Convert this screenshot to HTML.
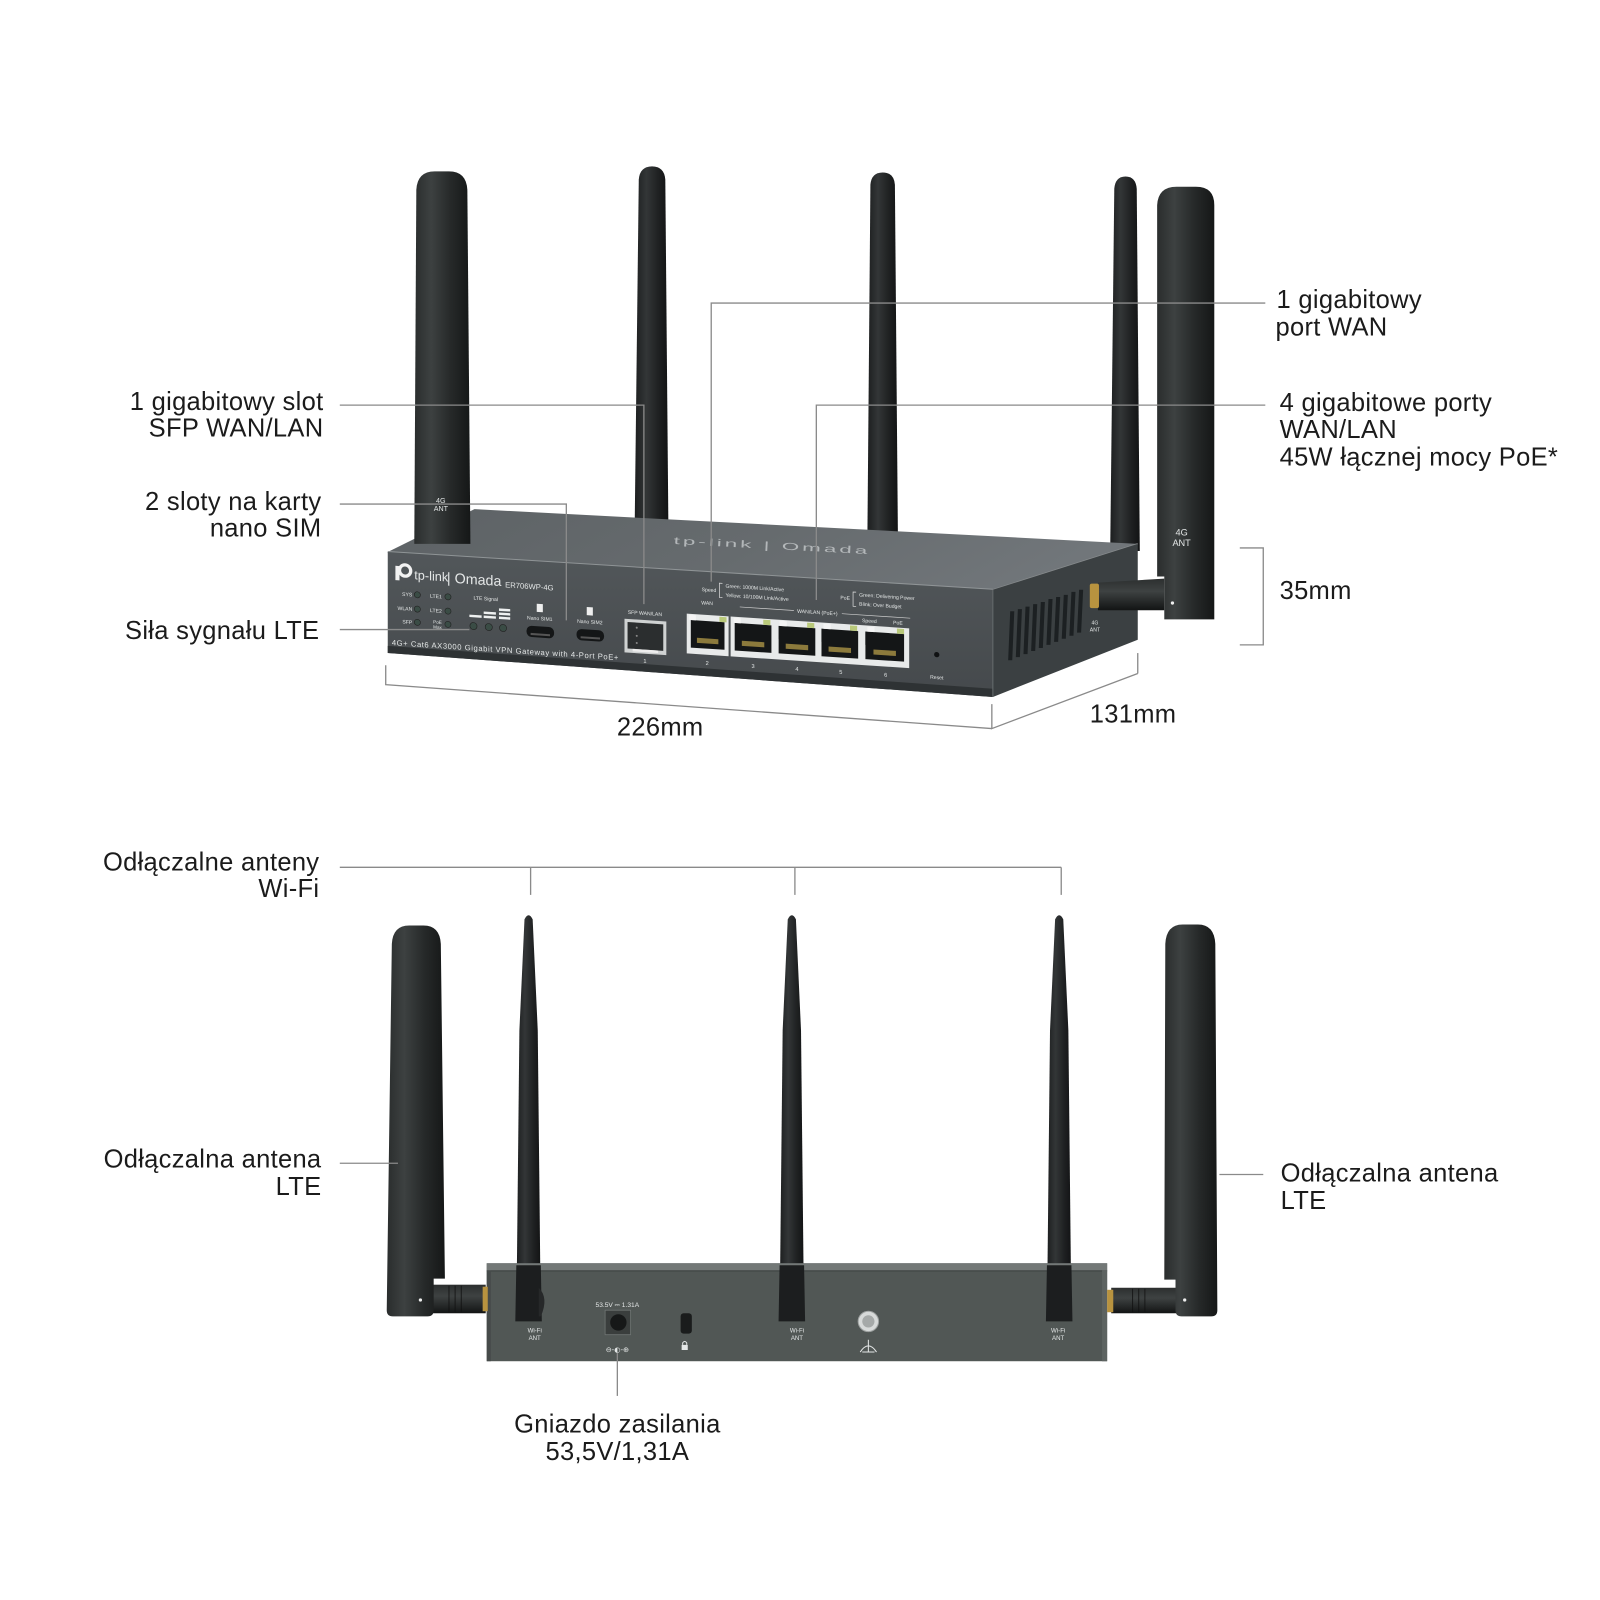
<!DOCTYPE html>
<html><head><meta charset="utf-8"><style>
html,body{margin:0;padding:0;background:#fff;}
svg{display:block;}
.t{font-family:"Liberation Sans",Arial,sans-serif;font-size:25px;fill:#1b1b1b;letter-spacing:0.3px;}
.s{font-family:"Liberation Sans",Arial,sans-serif;fill:#e4e7e7;}
.ln{stroke:#8a8a8a;stroke-width:1.3;fill:none;}
</style></head><body>
<svg width="1600" height="1600" viewBox="0 0 1568 1568" xmlns="http://www.w3.org/2000/svg">
<defs>
<linearGradient id="ant" x1="0" x2="1" y1="0" y2="0">
 <stop offset="0" stop-color="#2a2d2d"/><stop offset="0.3" stop-color="#3d4141"/><stop offset="0.65" stop-color="#262929"/><stop offset="1" stop-color="#151717"/>
</linearGradient>
<linearGradient id="ant2" x1="0" x2="1" y1="0" y2="0">
 <stop offset="0" stop-color="#1c1e1f"/><stop offset="0.35" stop-color="#333637"/><stop offset="0.7" stop-color="#1f2122"/><stop offset="1" stop-color="#121314"/>
</linearGradient>
<linearGradient id="topg" x1="0" y1="0" x2="1" y2="0.2">
 <stop offset="0" stop-color="#5d6265"/><stop offset="0.55" stop-color="#666b6e"/><stop offset="1" stop-color="#71767a"/>
</linearGradient>
<linearGradient id="frontg" x1="0" y1="0" x2="0" y2="1">
 <stop offset="0" stop-color="#52575a"/><stop offset="1" stop-color="#45494c"/>
</linearGradient>
<linearGradient id="cyl" x1="0" y1="0" x2="0" y2="1">
 <stop offset="0" stop-color="#2c2f2f"/><stop offset="0.4" stop-color="#3e4242"/><stop offset="1" stop-color="#121414"/>
</linearGradient>
</defs>

<!-- ===== TOP SECTION: back antennas ===== -->
<path d="M626,176 Q627,163 639,163 Q651,163 652,176 L655,515 L622,515 Z" fill="url(#ant2)"/>
<path d="M853,181 Q854,169 865,169 Q876,169 877,181 L880,532 L850,532 Z" fill="url(#ant2)"/>
<path d="M1092,185 Q1093,173 1103,173 Q1113,173 1114,185 L1117,540 L1088,540 Z" fill="url(#ant2)"/>

<!-- router top face -->
<polygon points="380,541 465,499 1115,533 973,578" fill="url(#topg)"/>
<line x1="380" y1="541" x2="973" y2="578" stroke="#8f9496" stroke-width="2"/>
<line x1="973" y1="578" x2="1115" y2="533" stroke="#85898b" stroke-width="1.5"/>
<text x="0" y="0" transform="translate(660,533) rotate(3) scale(1,0.45)" font-family="Liberation Sans, sans-serif" font-size="22" fill="#b3b7b9" textLength="190">tp-link | Omada</text>

<!-- side face -->
<polygon points="973,578 1115,533 1115,627 973,683" fill="#3b4042"/>
<g fill="#1c2022">
<polygon points="990,599 994,599 992,647 988,647"/>
<polygon points="997.5,597 1001.5,597 999.5,644 995.5,644"/>
<polygon points="1005,594.5 1009,594.5 1007,641 1003,641"/>
<polygon points="1012.5,592 1016.5,592 1014.5,638 1010.5,638"/>
<polygon points="1020,590 1024,590 1022,635 1018,635"/>
<polygon points="1027.5,587 1031.5,587 1029.5,632 1025.5,632"/>
<polygon points="1035,585 1039,585 1037,629 1033,629"/>
<polygon points="1042.5,583 1046.5,583 1044.5,626 1040.5,626"/>
<polygon points="1050,580 1054,580 1052,623 1048,623"/>
<polygon points="1057.5,578 1061.5,578 1059.5,620 1055.5,620"/>
</g>
<text x="1073" y="612" class="s" font-size="5" text-anchor="middle">4G</text>
<text x="1073" y="619" class="s" font-size="5" text-anchor="middle">ANT</text>

<!-- front face -->
<polygon points="380,541 973,578 973,683 380,640" fill="url(#frontg)"/>
<polygon points="380,633 973,675 973,683 380,640" fill="#2e3234"/>
<line x1="973" y1="578" x2="973" y2="683" stroke="#666b6d" stroke-width="1"/>

<g transform="translate(380,541) skewY(3.78)">
 <circle cx="17" cy="17" r="5.5" fill="none" stroke="#f2f2f2" stroke-width="3.2"/>
 <rect x="7.5" y="13" width="4" height="14" fill="#f2f2f2"/>
 <text x="26" y="25" class="s" font-size="12.5">tp-link</text>
 <text x="58" y="26" class="s" font-size="14">| Omada</text>
 <text x="115" y="27" class="s" font-size="7.5">ER706WP-4G</text>
 <text x="24" y="42" text-anchor="end" class="s" font-size="5">SYS</text>
 <text x="24" y="56" text-anchor="end" class="s" font-size="5">WLAN</text>
 <text x="24" y="69" text-anchor="end" class="s" font-size="5">SFP</text>
 <text x="53" y="42" text-anchor="end" class="s" font-size="5">LTE1</text>
 <text x="53" y="56" text-anchor="end" class="s" font-size="5">LTE2</text>
 <text x="53" y="67" text-anchor="end" class="s" font-size="4.5">PoE</text>
 <text x="53" y="72" text-anchor="end" class="s" font-size="4.5">Max</text>
 <text x="96" y="41" text-anchor="middle" class="s" font-size="5">LTE Signal</text>
 <g fill="#3a4c45" stroke="#222" stroke-width="0.6">
  <circle cx="29" cy="40" r="3"/><circle cx="29" cy="54" r="3"/><circle cx="29" cy="67" r="3"/>
  <circle cx="59" cy="40" r="3"/><circle cx="59" cy="54" r="3"/><circle cx="59" cy="67" r="3"/>
  <circle cx="84" cy="67" r="3.5"/><circle cx="99" cy="67" r="3.5"/><circle cx="113" cy="67" r="3.5"/>
 </g>
 <g fill="#eef0f0">
  <rect x="80" y="56" width="12" height="2.4"/>
  <rect x="94" y="52" width="12" height="2.4"/><rect x="94" y="56" width="12" height="2.4"/>
  <rect x="109" y="48" width="11" height="2.4"/><rect x="109" y="52" width="11" height="2.4"/><rect x="109" y="56" width="11" height="2.4"/>
 </g>
 <rect x="146" y="41" width="6" height="8" fill="#eee"/>
 <rect x="195" y="41" width="6" height="8" fill="#eee"/>
 <text x="149" y="57" text-anchor="middle" class="s" font-size="5">Nano SIM1</text>
 <text x="198" y="57" text-anchor="middle" class="s" font-size="5">Nano SIM2</text>
 <rect x="136" y="63" width="27" height="11" rx="5" fill="#141617"/>
 <rect x="140" y="70" width="19" height="2" fill="#555"/>
 <rect x="185" y="63" width="27" height="11" rx="5" fill="#141617"/>
 <rect x="189" y="70" width="19" height="2" fill="#555"/>
 <text x="252" y="45" text-anchor="middle" class="s" font-size="5">SFP WAN/LAN</text>
 <rect x="232" y="50" width="41" height="33" fill="#cfd2d2"/>
 <rect x="235" y="53" width="35" height="26" fill="#2b2e2f"/>
 <rect x="240" y="79" width="25" height="2.5" fill="#eee"/>
 <circle cx="244" cy="58" r="1" fill="#888"/><circle cx="244" cy="66" r="1" fill="#888"/><circle cx="244" cy="73" r="1" fill="#888"/>
 <text x="252" y="92" text-anchor="middle" class="s" font-size="5.5">1</text>
 <text x="322" y="18" text-anchor="end" class="s" font-size="5">Speed</text>
 <path d="M328,9 L325,9 L325,23 L328,23" stroke="#ddd" stroke-width="0.7" fill="none"/>
 <text x="331" y="13" class="s" font-size="5">Green: 1000M Link/Active</text>
 <text x="331" y="22" class="s" font-size="5">Yellow: 10/100M Link/Active</text>
 <text x="313" y="31" text-anchor="middle" class="s" font-size="5">WAN</text>
 <line x1="345" y1="31" x2="398" y2="31" stroke="#ccc" stroke-width="0.7"/>
 <text x="421" y="33" text-anchor="middle" class="s" font-size="5">WAN/LAN (PoE+)</text>
 <line x1="445" y1="31" x2="512" y2="31" stroke="#ccc" stroke-width="0.7"/>
 <text x="453" y="17" text-anchor="end" class="s" font-size="5">PoE</text>
 <path d="M459,9 L456,9 L456,23 L459,23" stroke="#ddd" stroke-width="0.7" fill="none"/>
 <text x="462" y="13" class="s" font-size="5">Green: Delivering Power</text>
 <text x="462" y="22" class="s" font-size="5">Blink: Over Budget</text>
 <text x="472" y="38" text-anchor="middle" class="s" font-size="5">Speed</text>
 <text x="500" y="38" text-anchor="middle" class="s" font-size="5">PoE</text>
 <rect x="293" y="41" width="41" height="39" fill="#e8eaea"/>
 <rect x="336" y="41" width="175" height="39" fill="#e8eaea"/>
 <g fill="#141617">
  <rect x="297" y="47" width="33" height="27"/>
  <rect x="340" y="47" width="36" height="27"/>
  <rect x="383" y="47" width="36" height="27"/>
  <rect x="425" y="47" width="36" height="27"/>
  <rect x="468" y="47" width="38" height="27"/>
 </g>
 <g fill="#8c7a3c">
  <rect x="303" y="64" width="21" height="5"/>
  <rect x="347" y="64" width="22" height="5"/>
  <rect x="390" y="64" width="22" height="5"/>
  <rect x="432" y="64" width="22" height="5"/>
  <rect x="476" y="64" width="22" height="5"/>
 </g>
 <g fill="#e8eaea">
  <rect x="378" y="60" width="5" height="14"/><rect x="421" y="60" width="4" height="14"/><rect x="463" y="60" width="5" height="14"/>
 </g>
 <g fill="#f4f4f4"><rect x="295" y="42" width="7" height="5"/><rect x="339" y="42" width="7" height="5"/><rect x="384" y="42" width="7" height="5"/><rect x="427" y="42" width="7" height="5"/><rect x="470" y="42" width="7" height="5"/></g>
 <g fill="#b9c97a"><rect x="325" y="42" width="7" height="5"/><rect x="368" y="42" width="7" height="5"/><rect x="411" y="42" width="7" height="5"/><rect x="453" y="42" width="7" height="5"/><rect x="499" y="42" width="7" height="5"/></g>
 <text x="313" y="90" class="s" font-size="5.5" text-anchor="middle">2</text>
 <text x="358" y="90" class="s" font-size="5.5" text-anchor="middle">3</text>
 <text x="401" y="90" class="s" font-size="5.5" text-anchor="middle">4</text>
 <text x="444" y="90" class="s" font-size="5.5" text-anchor="middle">5</text>
 <text x="488" y="90" class="s" font-size="5.5" text-anchor="middle">6</text>
 <circle cx="538" cy="65" r="2.6" fill="#101213"/>
 <text x="538" y="89" text-anchor="middle" class="s" font-size="5">Reset</text>
 <text x="4" y="91" class="s" font-size="7.5" textLength="222">4G+ Cat6 AX3000 Gigabit VPN Gateway with 4-Port PoE+</text>
</g>

<!-- left LTE antenna (top) -->
<path d="M408,186 Q409,168 426,168 L440,168 Q457,168 458,186 L461,533 L406,533 Z" fill="url(#ant)"/>
<text x="432" y="493" class="s" font-size="7" text-anchor="middle" fill="#cfd3d3">4G</text>
<text x="432" y="501" class="s" font-size="7" text-anchor="middle" fill="#cfd3d3">ANT</text>

<!-- right LTE connector + antenna (top) -->
<path d="M1076,571 L1141,567 L1141,598 L1076,598 Z" fill="url(#cyl)"/>
<rect x="1068" y="572" width="9" height="24" rx="2" fill="#b8933f"/>
<path d="M1134,201 Q1135,183 1153,183 L1172,183 Q1190,183 1190,201 L1190,607 L1141,607 L1141,565 L1134,565 Z" fill="url(#ant)"/>
<circle cx="1149" cy="591" r="1.6" fill="#eee"/>
<text x="1158" y="525" class="s" font-size="9" text-anchor="middle" fill="#d6d9d9">4G</text>
<text x="1158" y="535" class="s" font-size="9" text-anchor="middle" fill="#d6d9d9">ANT</text>

<!-- ===== BOTTOM SECTION ===== -->
<path d="M514,901 Q518,893 522,901 L527,1010 L530,1295 L506,1295 L509,1010 Z" fill="url(#ant2)"/>
<path d="M772,901 Q776,893 780,901 L785,1010 L788,1295 L764,1295 L767,1010 Z" fill="url(#ant2)"/>
<path d="M1034,901 Q1038,893 1042,901 L1047,1010 L1050,1295 L1026,1295 L1029,1010 Z" fill="url(#ant2)"/>

<rect x="477" y="1238" width="608" height="96" fill="#515755"/>
<rect x="477" y="1238" width="608" height="7" fill="#737877"/>
<line x1="477" y1="1245.5" x2="1085" y2="1245.5" stroke="#3b403f" stroke-width="1"/>
<rect x="477" y="1245" width="4" height="89" fill="#464b4a"/>
<rect x="1080" y="1245" width="5" height="89" fill="#5d6361"/>

<path d="M506,1240 L530,1240 L531,1295 L505,1295 Z" fill="#1c1e1f"/>
<path d="M764,1240 L788,1240 L789,1295 L763,1295 Z" fill="#1c1e1f"/>
<path d="M1026,1240 L1050,1240 L1051,1295 L1025,1295 Z" fill="#1c1e1f"/>
<path d="M528,1262 Q538,1272 530,1290 L528,1290 Z" fill="#262829"/>

<text x="524" y="1306" class="s" font-size="6" text-anchor="middle">Wi-Fi</text>
<text x="524" y="1313" class="s" font-size="6" text-anchor="middle">ANT</text>
<text x="781" y="1306" class="s" font-size="6" text-anchor="middle">Wi-Fi</text>
<text x="781" y="1313" class="s" font-size="6" text-anchor="middle">ANT</text>
<text x="1037" y="1306" class="s" font-size="6" text-anchor="middle">Wi-Fi</text>
<text x="1037" y="1313" class="s" font-size="6" text-anchor="middle">ANT</text>

<text x="605" y="1281" class="s" font-size="6.5" text-anchor="middle">53.5V ⎓ 1.31A</text>
<rect x="593" y="1284" width="25" height="24" fill="#3a3e3d" stroke="#707574" stroke-width="0.8"/>
<circle cx="606" cy="1296" r="8" fill="#161818"/>
<text x="605" y="1325" font-family="DejaVu Sans, sans-serif" font-size="7" fill="#e4e7e7" text-anchor="middle">⊖-◐-⊕</text>
<rect x="667" y="1287" width="11" height="20" rx="3" fill="#1a1c1c"/>
<rect x="668" y="1318" width="6" height="5" fill="#e4e7e7"/>
<path d="M669,1318 L669,1316 Q671,1313 673,1316 L673,1318" stroke="#e4e7e7" stroke-width="1" fill="none"/>
<circle cx="851" cy="1295" r="10" fill="#d7dad9" stroke="#9ea2a1" stroke-width="1"/>
<circle cx="851" cy="1295" r="6" fill="#a5a9a8"/>
<path d="M843,1325 Q851,1313 859,1325 M851,1313 L851,1325 M845,1325 L857,1325" stroke="#e4e7e7" stroke-width="1" fill="none"/>

<rect x="424" y="1259" width="52" height="28" fill="url(#cyl)"/>
<g stroke="#111" stroke-width="0.8"><line x1="440" y1="1260" x2="440" y2="1286"/><line x1="446" y1="1260" x2="446" y2="1286"/><line x1="452" y1="1260" x2="452" y2="1286"/></g>
<rect x="473" y="1261" width="5" height="24" fill="#b8933f"/>
<path d="M384,925 Q385,907 401,907 L415,907 Q431,907 432,925 L436,1253 L425,1253 L425,1284 Q425,1290 419,1290 L385,1290 Q379,1290 379,1284 Z" fill="url(#ant)"/>
<circle cx="412" cy="1274" r="1.6" fill="#eee"/>

<rect x="1089" y="1262" width="64" height="25" fill="url(#cyl)"/>
<g stroke="#111" stroke-width="0.8"><line x1="1110" y1="1263" x2="1110" y2="1286"/><line x1="1116" y1="1263" x2="1116" y2="1286"/><line x1="1122" y1="1263" x2="1122" y2="1286"/></g>
<rect x="1085" y="1264" width="6" height="22" fill="#b8933f"/>
<path d="M1142,925 Q1143,906 1159,906 L1174,906 Q1190,906 1191,925 L1193,1284 Q1193,1290 1187,1290 L1158,1290 Q1152,1290 1152,1284 L1152,1254 L1141,1254 Z" fill="url(#ant)"/>
<circle cx="1161" cy="1274" r="1.6" fill="#eee"/>

<!-- ===== LEADER LINES ===== -->
<polyline class="ln" points="1240,297 697,297 697,570"/>
<polyline class="ln" points="333,397 631,397 631,592"/>
<polyline class="ln" points="1240,397 800,397 800,588"/>
<polyline class="ln" points="333,494 555,494 555,608"/>
<polyline class="ln" points="333,617 460,617"/>
<polyline class="ln" points="378,652 378,671 972,714"/>
<polyline class="ln" points="972,690 972,714 1115,660"/>
<polyline class="ln" points="1115,640 1115,660"/>
<polyline class="ln" points="1215,537 1238,537 1238,632 1215,632"/>
<polyline class="ln" points="333,850 1040,850"/>
<polyline class="ln" points="520,850 520,877"/>
<polyline class="ln" points="779,850 779,877"/>
<polyline class="ln" points="1040,850 1040,877"/>
<polyline class="ln" points="333,1140 390,1140"/>
<polyline class="ln" points="1195,1151 1238,1151"/>
<polyline class="ln" points="605,1326 605,1368"/>

<!-- ===== LABELS ===== -->
<text class="t" x="1251" y="302">1 gigabitowy</text>
<text class="t" x="1250" y="329">port WAN</text>
<text class="t" x="1254" y="403">4 gigabitowe porty</text>
<text class="t" x="1254" y="429">WAN/LAN</text>
<text class="t" x="1254" y="456">45W łącznej mocy PoE*</text>
<text class="t" x="1254" y="587">35mm</text>
<text class="t" x="1068" y="708">131mm</text>
<text class="t" x="647" y="721" text-anchor="middle">226mm</text>

<text class="t" x="317" y="402" text-anchor="end">1 gigabitowy slot</text>
<text class="t" x="317" y="428" text-anchor="end">SFP WAN/LAN</text>
<text class="t" x="315" y="500" text-anchor="end">2 sloty na karty</text>
<text class="t" x="315" y="526" text-anchor="end">nano SIM</text>
<text class="t" x="313" y="626" text-anchor="end">Siła sygnału LTE</text>

<text class="t" x="313" y="853" text-anchor="end">Odłączalne anteny</text>
<text class="t" x="313" y="879" text-anchor="end">Wi-Fi</text>
<text class="t" x="315" y="1144" text-anchor="end">Odłączalna antena</text>
<text class="t" x="315" y="1171" text-anchor="end">LTE</text>
<text class="t" x="1255" y="1158">Odłączalna antena</text>
<text class="t" x="1255" y="1185">LTE</text>
<text class="t" x="605" y="1404" text-anchor="middle">Gniazdo zasilania</text>
<text class="t" x="605" y="1431" text-anchor="middle">53,5V/1,31A</text>
</svg>
</body></html>
